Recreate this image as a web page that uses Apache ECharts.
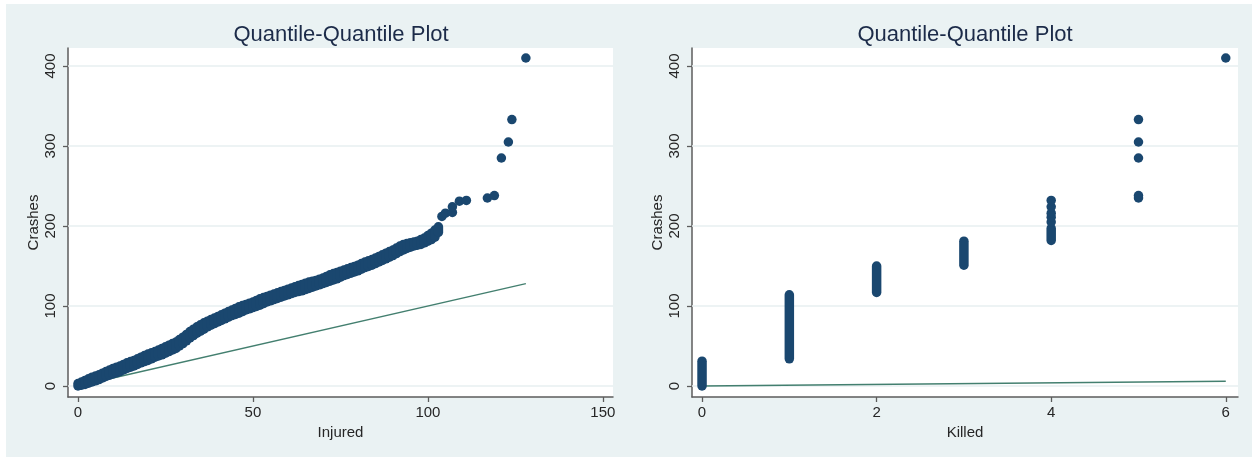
<!DOCTYPE html>
<html>
<head>
<meta charset="utf-8">
<script src="https://cdn.jsdelivr.net/npm/echarts@6/dist/echarts.min.js"></script>
<style>
  html, body { margin: 0; padding: 0; background: #ffffff; }
  #bg { position: absolute; left: 6px; top: 4px; width: 1246px; height: 453px; background: #eaf2f3; }
  #chart { position: absolute; left: 0; top: 0; width: 1252px; height: 459px; }
</style>
</head>
<body>
<div id="bg"></div>
<div id="chart"></div>
<script>
// ---------- DATA ----------
const titleText = 'Quantile-Quantile Plot';
const yName = 'Crashes';
const leftXName = 'Injured';
const rightXName = 'Killed';

const yTicks = [0, 100, 200, 300, 400];
const leftXTicks = [0, 50, 100, 150];
const rightXTicks = [0, 2, 4, 6];

// Left panel: vertical runs of quantile pairs (x = Injured quantile, y range of Crashes quantiles)
const injuredRunX = [0, 1, 2, 3, 4, 5, 6, 7, 8, 9,
  10, 11, 12, 13, 14, 15, 16, 17, 18, 19,
  20, 21, 22, 23, 24, 25, 26, 27, 28, 29,
  30, 31, 32, 33, 34, 35, 36, 37, 38, 39,
  40, 41, 42, 43, 44, 45, 46, 47, 48, 49,
  50, 51, 52, 53, 54, 55, 56, 57, 58, 59,
  60, 61, 62, 63, 64, 65, 66, 67, 68, 69,
  70, 71, 72, 73, 74, 75, 76, 77, 78, 79,
  80, 81, 82, 83, 84, 85, 86, 87, 88, 89,
  90, 91, 92, 93, 94, 95, 96, 97, 98, 99,
  100, 101, 102, 103];
const injuredRunLo = [0, 1, 2, 3.5, 5, 6.5, 8, 10, 12, 13.5,
  15, 16.5, 18, 20, 22, 23.5, 25, 27, 29, 30.5,
  32, 34, 36, 37.5, 39, 41, 43, 45, 47, 50,
  53, 56.5, 60, 63, 66, 68.5, 71, 74, 76, 78,
  80, 82, 84, 86, 88, 89.5, 91, 93, 95, 96.5,
  98, 99.5, 101, 103, 105, 106.5, 108, 109.5, 111, 112.5,
  114, 115.5, 117, 118, 119, 120.5, 122, 123.5, 125, 126.5,
  128, 129.5, 131, 132.5, 134, 136, 138, 139.5, 141, 142.5,
  144, 146, 148, 149.5, 151, 153, 155, 157, 159, 161,
  163, 165.5, 168, 170, 172, 173.5, 175, 176, 177, 179,
  181, 183, 186, 192];
const injuredRunHi = [3, 5, 7, 9, 11, 12.5, 14, 16, 18, 20,
  22, 23.5, 25, 27, 29, 30.5, 32, 34, 36, 38,
  40, 41.5, 43, 45, 47, 49, 51, 53, 55, 58,
  61, 64.5, 68, 71, 74, 76.5, 79, 81, 83, 85,
  87, 89, 91, 93, 95, 97, 99, 100.5, 102, 103.5,
  105, 107, 109, 110.5, 112, 113.5, 115, 116.5, 118, 119.5,
  121, 122.5, 124, 125.5, 127, 128.5, 130, 131, 132, 133.5,
  135, 137, 139, 140.5, 142, 143.5, 145, 146.5, 148, 149.5,
  151, 153, 155, 156.5, 158, 160, 162, 164, 166, 168,
  170, 172.5, 175, 177, 178, 179, 180, 181, 183, 185,
  188, 191, 195, 199];
// Left panel: sparse upper-tail points
const injuredPointX = [104, 105, 107, 107, 109, 111, 117, 119, 121, 123, 124, 128];
const injuredPointY = [212, 216, 217, 224, 231, 232, 235, 238, 285, 305, 333, 410];

// Right panel: vertical runs (x = Killed quantile)
const killedRunX  = [0, 1, 2, 3, 4];
const killedRunLo = [0, 34, 117, 151, 182];
const killedRunHi = [31, 114, 150, 181, 197];
// Right panel: sparse points
const killedPointX = [4, 4, 4, 4, 4, 5, 5, 5, 5, 5, 6];
const killedPointY = [205, 211, 216, 224, 232, 235, 238, 285, 305, 333, 410];

// Reference line (y = x) spans
const injuredRange = [0, 128];
const killedRange = [0, 6];

// ---------- STYLE ----------
const NAVY = '#1a476f';
const REF = '#437f6f';
const FONT = '"Liberation Sans", Arial, sans-serif';
const TXT = '#262626';
const AXC = '#5c5c5c';
const GRIDC = '#e7eff1';

function zip(a, b) { return a.map((v, i) => [v, b[i]]); }
function zip3(a, b, c) { return a.map((v, i) => [v, b[i], c[i]]); }

const runRender = function (params, api) {
  const p1 = api.coord([api.value(0), api.value(1)]);
  const p2 = api.coord([api.value(0), api.value(2)]);
  return {
    type: 'line',
    shape: { x1: p1[0], y1: p1[1], x2: p2[0], y2: p2[1] },
    style: { stroke: NAVY, lineWidth: 9.5, lineCap: 'round', fill: null }
  };
};

function xAxisCfg(idx, min, max, ticks, name) {
  return {
    type: 'value', gridIndex: idx, min: min, max: max,
    name: name, nameLocation: 'middle', nameGap: 27,
    nameTextStyle: { fontFamily: FONT, fontSize: 15, color: TXT },
    axisLine: { show: true, onZero: false, lineStyle: { color: AXC, width: 1.5 } },
    axisTick: { show: true, length: 5, customValues: ticks, lineStyle: { color: AXC, width: 1.3 } },
    axisLabel: { customValues: ticks, fontFamily: FONT, fontSize: 15, color: TXT, margin: 8 },
    splitLine: { show: false }
  };
}
function yAxisCfg(idx) {
  return {
    type: 'value', gridIndex: idx, min: -13.75, max: 422.5,
    name: yName, nameLocation: 'middle', nameGap: 27,
    nameTextStyle: { fontFamily: FONT, fontSize: 15, color: TXT },
    axisLine: { show: true, onZero: false, lineStyle: { color: AXC, width: 1.5 } },
    axisTick: { show: true, length: 5, customValues: yTicks, lineStyle: { color: AXC, width: 1.3 } },
    axisLabel: { customValues: yTicks, rotate: 90, fontFamily: FONT, fontSize: 15, color: TXT, margin: 10 },
    splitLine: { show: false }
  };
}
function gridLines() {
  return {
    silent: true, symbol: 'none', z: 1,
    label: { show: false },
    lineStyle: { color: GRIDC, width: 1.5, type: 'solid' },
    data: yTicks.map(v => ({ yAxis: v }))
  };
}

const chart = echarts.init(document.getElementById('chart'), null, { renderer: 'canvas' });
chart.setOption({
  animation: false,
  backgroundColor: 'transparent',
  title: [
    { text: titleText, left: 336, top: 19, textAlign: 'center',
      textStyle: { fontFamily: FONT, fontSize: 22, fontWeight: 'normal', color: '#1c2b49' } },
    { text: titleText, left: 960, top: 19, textAlign: 'center',
      textStyle: { fontFamily: FONT, fontSize: 22, fontWeight: 'normal', color: '#1c2b49' } }
  ],
  grid: [
    { left: 68, top: 48, width: 545, height: 349, show: true, backgroundColor: '#ffffff', borderWidth: 0 },
    { left: 692, top: 48, width: 546, height: 349, show: true, backgroundColor: '#ffffff', borderWidth: 0 }
  ],
  xAxis: [
    xAxisCfg(0, -2.86, 152.9, leftXTicks, leftXName),
    xAxisCfg(1, -0.115, 6.14, rightXTicks, rightXName)
  ],
  yAxis: [yAxisCfg(0), yAxisCfg(1)],
  series: [
    { type: 'line', xAxisIndex: 0, yAxisIndex: 0, z: 2, symbol: 'none',
      data: [[injuredRange[0], injuredRange[0]], [injuredRange[1], injuredRange[1]]],
      lineStyle: { color: REF, width: 1.4 }, markLine: gridLines() },
    { type: 'custom', xAxisIndex: 0, yAxisIndex: 0, z: 3, renderItem: runRender,
      encode: { x: 0, y: [1, 2] }, data: zip3(injuredRunX, injuredRunLo, injuredRunHi) },
    { type: 'scatter', xAxisIndex: 0, yAxisIndex: 0, z: 4, symbol: 'circle', symbolSize: 9.5,
      itemStyle: { color: NAVY, opacity: 1 }, data: zip(injuredPointX, injuredPointY) },

    { type: 'line', xAxisIndex: 1, yAxisIndex: 1, z: 2, symbol: 'none',
      data: [[killedRange[0], killedRange[0]], [killedRange[1], killedRange[1]]],
      lineStyle: { color: REF, width: 1.4 }, markLine: gridLines() },
    { type: 'custom', xAxisIndex: 1, yAxisIndex: 1, z: 3, renderItem: runRender,
      encode: { x: 0, y: [1, 2] }, data: zip3(killedRunX, killedRunLo, killedRunHi) },
    { type: 'scatter', xAxisIndex: 1, yAxisIndex: 1, z: 4, symbol: 'circle', symbolSize: 9.5,
      itemStyle: { color: NAVY, opacity: 1 }, data: zip(killedPointX, killedPointY) }
  ]
});
</script>
</body>
</html>
